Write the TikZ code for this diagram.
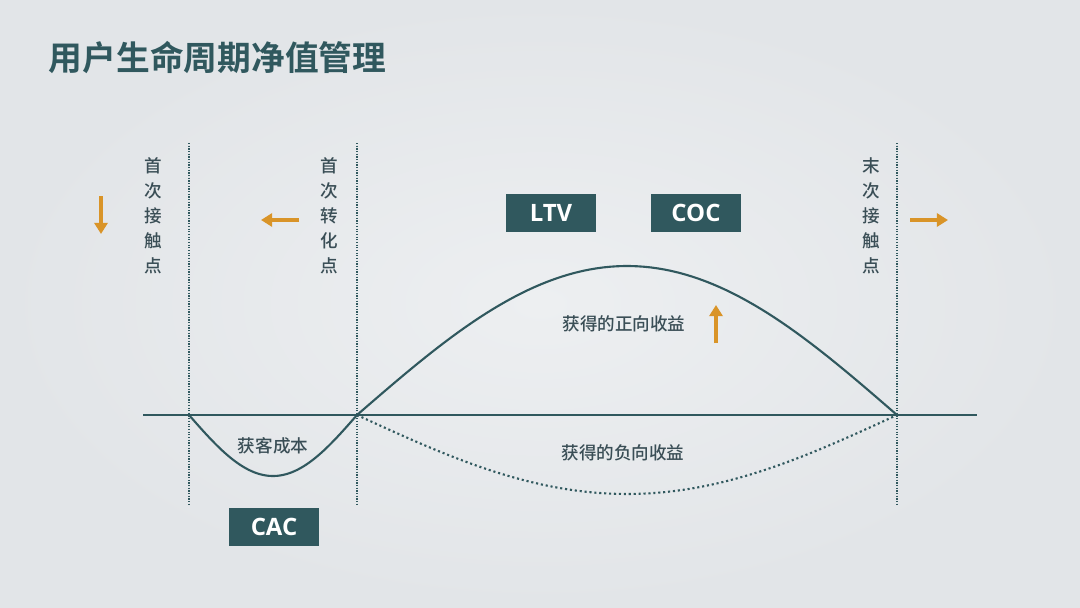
\documentclass[tikz,border=0pt]{standalone}
\usepackage{fontspec}
\usepackage{xcolor}
\usepackage{tikz}
\usetikzlibrary{arrows.meta,positioning,calc}
\newfontfamily\cjk{Noto Sans CJK SC Medium}
\newfontfamily\cjkbold{Noto Sans CJK SC Bold}
\newfontfamily\latin{Open Sans}
\definecolor{bgc}{RGB}{237,239,241}
\definecolor{bgedge}{RGB}{226,229,232}
\definecolor{teal}{RGB}{48,88,94}
\definecolor{ink}{RGB}{58,78,86}
\definecolor{amber}{RGB}{217,148,40}
\tikzset{
  tag/.style={rectangle, fill=teal, text=white, minimum width=2.25cm, minimum height=0.93cm,
              inner sep=0pt, font=\latin\fontsize{17}{17}\selectfont\bfseries},
  vlab/.style={align=center, text=ink, font=\cjk\fontsize{12.5}{17.8}\selectfont},
  lab/.style={text=ink, font=\cjk\fontsize{12.5}{14}\selectfont},
  guide/.style={teal, line width=0.9pt, densely dotted},
  curve/.style={teal, line width=1.5pt},
  point/.style={-{Triangle[length=2.8mm,width=3.3mm]}, amber, line width=2.8pt},
}
\begin{document}
\begin{tikzpicture}[x=0.025cm, y=-0.025cm]
\shade[inner color=bgc, outer color=bgedge] (0,0) rectangle (1080,607);
\useasboundingbox (0,0) rectangle (1080,607);
\node[anchor=west, text=teal, font=\cjkbold\fontsize{24}{24}\selectfont] (title) at (44,58) {用户生命周期净值管理};
% axis and guides
\coordinate (ax0) at (143,415);
\coordinate (ax1) at (977,415);
\draw[teal, line width=1.2pt] (ax0) -- (ax1);
\foreach \x/\nm in {189/first, 357/conv, 897/last} {
  \coordinate (\nm top) at (\x,143);
  \coordinate (\nm bot) at (\x,506);
  \draw[guide] (\nm top) -- (\nm bot);
}
% curves
\draw[curve] plot[domain=0:180, samples=60] ({189+0.93333*\x},{415+61*sin(\x)});
\draw[curve] plot[domain=0:180, samples=80] ({357+3*\x},{415-149*sin(\x)});
\draw[teal, line width=1.5pt, dotted] plot[domain=0:180, samples=80] ({357+3*\x},{415+79*sin(\x)});
% vertical labels
\node[vlab] (firstlab) at (153,216) {首\\次\\接\\触\\点};
\node[vlab] (convlab) at (329,216) {首\\次\\转\\化\\点};
\node[vlab] (lastlab) at (871,216) {末\\次\\接\\触\\点};
% tags
\node[tag] (ltv) at (551,213) {LTV};
\node[tag] (coc) at (696,213) {COC};
\node[tag] (cac) at (274,527) {CAC};
\node[lab] (gain) at (624,324) {获得的正向收益};
\node[lab] (cost) at (273,446) {获客成本};
\node[lab] (loss) at (623,453) {获得的负向收益};
% arrows
\coordinate (dn0) at (101,196); \coordinate (dn1) at (101,234);
\coordinate (lf0) at (299,220); \coordinate (lf1) at (261,220);
\coordinate (rt0) at (910,220); \coordinate (rt1) at (948,220);
\coordinate (up0) at (716,343); \coordinate (up1) at (716,305);
\foreach \a in {dn, lf, rt, up} \draw[point] (\a0) -- (\a1);
\end{tikzpicture}
\end{document}
